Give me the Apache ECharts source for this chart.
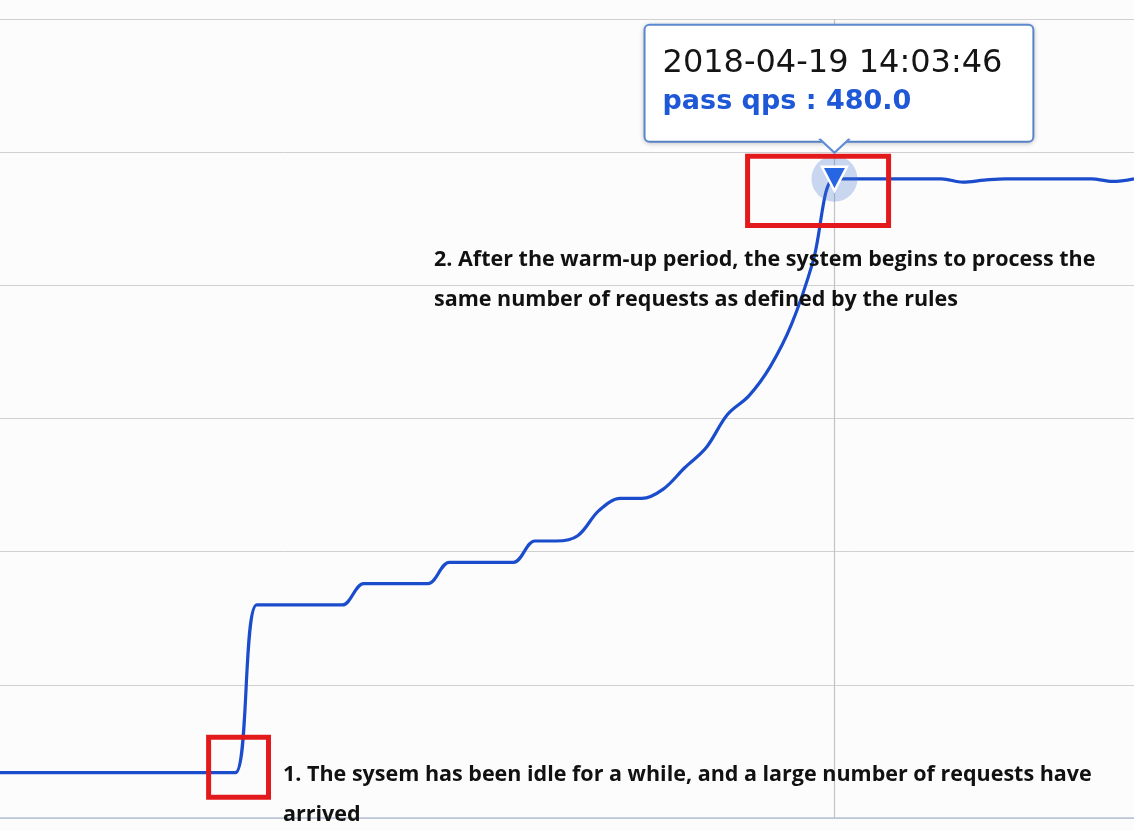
<!DOCTYPE html>
<html>
<head>
<meta charset="utf-8">
<script src="https://cdn.jsdelivr.net/npm/echarts@6/dist/echarts.min.js"></script>
<style>
html,body{margin:0;padding:0;background:#fcfcfd;}
#main{width:1134px;height:831px;}
</style>
</head>
<body>
<div id="main"></div>
<script>
// ---- data ----
const dateStr = '2018-04-19';
const times = [
 '14:03:07','14:03:08','14:03:09','14:03:10','14:03:11','14:03:12','14:03:13','14:03:14','14:03:15','14:03:16',
 '14:03:17','14:03:18','14:03:19','14:03:20','14:03:21','14:03:22','14:03:23','14:03:24','14:03:25','14:03:26',
 '14:03:27','14:03:28','14:03:29','14:03:30','14:03:31','14:03:32','14:03:33','14:03:34','14:03:35','14:03:36',
 '14:03:37','14:03:38','14:03:39','14:03:40','14:03:41','14:03:42','14:03:43','14:03:44','14:03:45','14:03:46',
 '14:03:47','14:03:48','14:03:49','14:03:50','14:03:51','14:03:52','14:03:53','14:03:54','14:03:55','14:03:56',
 '14:03:57','14:03:58','14:03:59','14:04:00'
];
const passQps = [
 34,34,34,34,34,34,34,34,34,34,34,34,
 160,160,160,160,160,
 176,176,176,176,
 192,192,192,192,
 208,208,212,231,240,240,
 247,263,278,303,317,339,371,418,480,
 480,480,480,480,480,
 477.5,479,480,480,480,480,480,478,480
];
const yTicks = [0,100,200,300,400,500,600];
const seriesName = 'pass qps';
const hoverIndex = 39;
const note1 = '1. The sysem has been idle for a while, and a large number of requests have\narrived';
const note2 = '2. After the warm-up period, the system begins to process the\nsame number of requests as defined by the rules';

// ---- build ----
const tOf = s => echarts.time.parse(dateStr + ' ' + s).getTime();
const t0 = tOf(times[0]);
const at = sec => t0 + sec * 1000;
const seriesData = times.map((t, i) => [tOf(t), passQps[i]]);
const hoverPoint = seriesData[hoverIndex];

const chart = echarts.init(document.getElementById('main'));
const option = {
  backgroundColor: '#fcfcfd',
  animation: false,
  grid: { left: 0, right: 0, top: 19, bottom: 13, containLabel: false },
  xAxis: {
    type: 'time',
    min: tOf(times[0]),
    max: tOf(times[times.length - 1]),
    axisLine: { show: true, lineStyle: { color: '#b6c3d4', width: 1.5 } },
    axisTick: { show: false },
    axisLabel: { show: false },
    splitLine: { show: false }
  },
  yAxis: {
    type: 'value',
    min: yTicks[0],
    max: yTicks[yTicks.length - 1],
    interval: yTicks[1] - yTicks[0],
    axisLine: { show: false },
    axisTick: { show: false },
    axisLabel: { show: false },
    splitLine: { lineStyle: { color: '#d0d0d2', width: 1 } }
  },
  graphic: [
    { type: 'text', left: 283, top: 755, z: 50,
      style: { text: note1, font: 'bold 21.5px "Open Sans"', lineHeight: 40, fill: '#111111' } },
    { type: 'text', left: 434, top: 240, z: 50,
      style: { text: note2, font: 'bold 21.5px "Open Sans"', lineHeight: 40, fill: '#111111' } }
  ],
  series: [
    {
      name: seriesName,
      type: 'line',
      data: seriesData,
      smooth: 0.35,
      showSymbol: false,
      z: 3,
      lineStyle: { color: '#1a4ccc', width: 3.2 },
      markLine: {
        silent: true, z: 1, symbol: 'none', animation: false,
        label: { show: false },
        lineStyle: { color: '#c2c3c6', width: 1.2, type: 'solid' },
        data: [{ xAxis: hoverPoint[0] }]
      },
      markArea: {
        silent: true, z: 8,
        itemStyle: { color: 'rgba(0,0,0,0)', borderColor: '#e31a1c', borderWidth: 5 },
        data: [
          [{ coord: [at(34.94), 497] }, { coord: [at(41.53), 445] }],
          [{ coord: [at(9.75), 60.7] }, { coord: [at(12.55), 15.6] }]
        ]
      },
      markPoint: {
        silent: true, z: 6, animation: false,
        label: { show: false },
        data: [
          { coord: hoverPoint, symbol: 'circle', symbolSize: 46,
            itemStyle: { color: 'rgba(70,115,210,0.28)' } },
          { coord: hoverPoint, symbol: 'triangle', symbolRotate: 180, symbolSize: [25, 24],
            itemStyle: { color: '#2766e2', borderColor: '#ffffff', borderWidth: 2.5 } }
        ]
      }
    },
    {
      name: 'tooltipBox',
      type: 'line',
      data: [hoverPoint],
      showSymbol: false,
      lineStyle: { opacity: 0 },
      z: 20,
      markPoint: {
        silent: true, z: 20, animation: false,
        data: [{
          coord: hoverPoint, symbol: 'circle', symbolSize: 0.1,
          itemStyle: { color: 'rgba(0,0,0,0)' },
          label: {
            show: true,
            position: 'top',
            distance: 38,
            offset: [4.5, 0],
            formatter: () => '{t|' + dateStr + ' ' + times[hoverIndex] + '}\n{v|' + seriesName + ' : ' + passQps[hoverIndex].toFixed(1) + '}',
            backgroundColor: '#ffffff',
            borderColor: '#5f8ed9',
            borderWidth: 2,
            borderRadius: 4,
            padding: [19, 30, 20, 17],
            shadowBlur: 5,
            shadowColor: 'rgba(0,0,0,0.18)',
            shadowOffsetY: 1,
            rich: {
              t: { fontFamily: 'DejaVu Sans', fontSize: 32, color: '#151515', lineHeight: 38, align: 'left' },
              v: { fontFamily: 'DejaVu Sans', fontSize: 27, fontWeight: 'bold', color: '#1f58d6', lineHeight: 38, align: 'left' }
            }
          }
        }]
      }
    },
    {
      name: 'tooltipArrow',
      type: 'line',
      data: [hoverPoint],
      showSymbol: false,
      lineStyle: { opacity: 0 },
      z: 21,
      markPoint: {
        silent: true, z: 21, animation: false,
        label: { show: false },
        data: [{
          coord: hoverPoint,
          symbol: 'path://M0,0L15,14L30,0',
          symbolSize: [30, 14],
          symbolOffset: [0, -33],
          itemStyle: { color: '#ffffff', borderColor: '#5f8ed9', borderWidth: 2 }
        }]
      }
    }
  ]
};
chart.setOption(option);
</script>
</body>
</html>
